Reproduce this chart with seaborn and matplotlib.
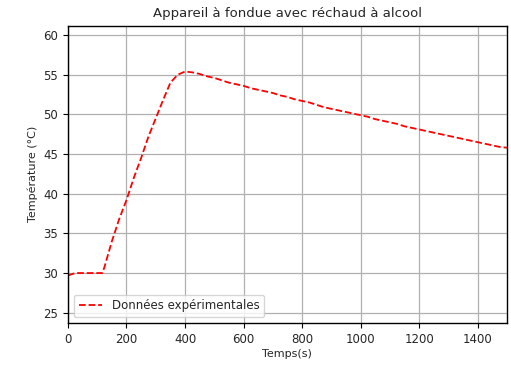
import pandas as pd
import matplotlib
matplotlib.use("Agg")
import matplotlib.pyplot as plt
import seaborn as sns

# temps (s) et temperature mesuree (degC)
temps = [0, 25, 50, 75, 100, 118, 125, 150, 175, 200, 225, 250, 275, 300, 325, 350,
         375, 400, 425, 450, 475, 500, 525, 550, 575, 600, 625, 650, 675, 700,
         725, 750, 775, 800, 825, 850, 875, 900, 925, 950, 975, 1000, 1025, 1050,
         1075, 1100, 1125, 1150, 1175, 1200, 1225, 1250, 1275, 1300, 1325, 1350,
         1375, 1400, 1425, 1450, 1475, 1500]
temperature = [29.7, 30.0, 30.0, 30.0, 30.0, 30.0, 30.8, 34.0, 36.8, 39.2, 42.0, 44.5,
               47.2, 49.5, 51.8, 54.0, 55.0, 55.4, 55.3, 55.1, 54.8, 54.6, 54.3, 54.0,
               53.8, 53.6, 53.3, 53.1, 52.9, 52.7, 52.4, 52.2, 51.9, 51.7, 51.5, 51.2,
               50.9, 50.7, 50.5, 50.3, 50.1, 49.9, 49.7, 49.4, 49.2, 49.0, 48.8, 48.5,
               48.3, 48.1, 47.9, 47.7, 47.5, 47.3, 47.1, 46.9, 46.7, 46.5, 46.3, 46.1,
               45.9, 45.8]

df = pd.DataFrame({"temps": temps, "temperature": temperature})

sns.set_style("whitegrid")
plt.rcParams["font.family"] = ["DejaVu Sans"]

fig = plt.figure(figsize=(5.11, 3.65), dpi=100)
ax = fig.add_axes([0.133, 0.115, 0.859, 0.815])
sns.lineplot(x="temps", y="temperature", data=df, ax=ax, color="red",
             linestyle="--", linewidth=1.3, label="Données expérimentales")

ax.set_xlim(0, 1500)
ax.set_ylim(23.7, 61.2)
ax.set_xticks(range(0, 1401, 200))
ax.set_yticks(range(25, 61, 5))
ax.grid(True, color="#b0b0b0", linewidth=0.9)
for s in ax.spines.values():
    s.set_color("black")
    s.set_linewidth(1.0)
ax.tick_params(axis="both", labelsize=8.5, length=3.5, color="black", left=True, bottom=True)
ax.set_title("Appareil à fondue avec réchaud à alcool", fontsize=9.5)
ax.set_xlabel("Temps(s)", fontsize=8, labelpad=2)
ax.set_ylabel("Température (°C)", fontsize=8)
ax.legend(loc="lower left", fontsize=8.5, frameon=True)

fig.savefig("out.png", dpi=100)
